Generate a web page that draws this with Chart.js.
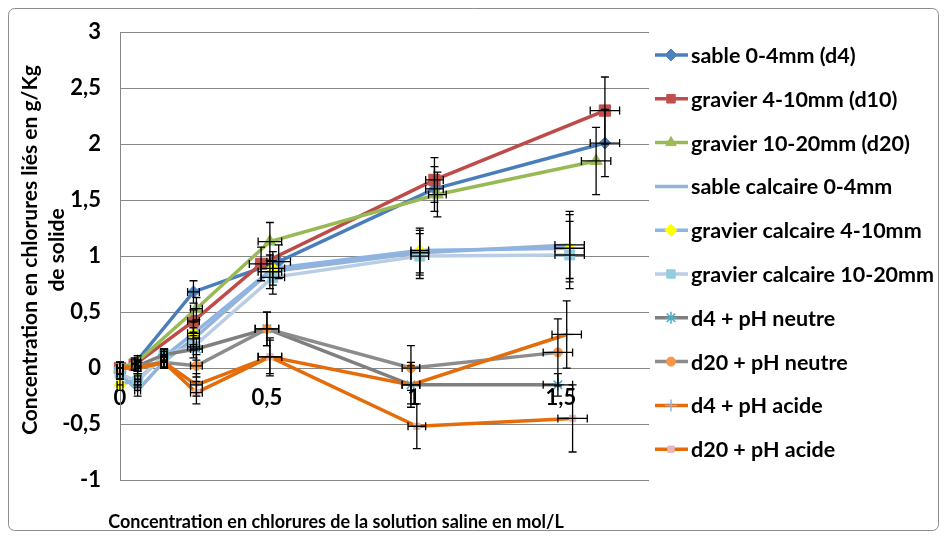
<!DOCTYPE html>
<html>
<head>
<meta charset="utf-8">
<script src="https://cdn.jsdelivr.net/npm/chart.js@4/dist/chart.umd.min.js"></script>
<style>
  body { margin: 0; background: #fff; }
</style>
</head>
<body>
<canvas id="myChart" width="946" height="538"></canvas>
<script>
// series names (legend)
const seriesNames = [
    'sable 0-4mm (d4)',
    'gravier 4-10mm (d10)',
    'gravier 10-20mm (d20)',
    'sable calcaire 0-4mm',
    'gravier calcaire 4-10mm',
    'gravier calcaire 10-20mm',
    'd4 + pH neutre',
    'd20 + pH neutre',
    'd4 + pH acide',
    'd20 + pH acide'
];

// concentration of the saline solution (mol/L), one list per series
const xValues = [
    [0, 0.05, 0.25, 0.54, 1.07, 1.65],
    [0, 0.05, 0.25, 0.48, 1.07, 1.65],
    [0, 0.06, 0.26, 0.51, 1.08, 1.62],
    [0, 0.06, 0.15, 0.25, 0.51, 1.02, 1.53],
    [0, 0.06, 0.15, 0.25, 0.52, 1.02, 1.53],
    [0, 0.06, 0.15, 0.25, 0.52, 1.02, 1.53],
    [0, 0.06, 0.15, 0.26, 0.5, 0.99, 1.49],
    [0, 0.06, 0.15, 0.26, 0.5, 0.99, 1.49],
    [0, 0.06, 0.15, 0.26, 0.51, 0.99, 1.52],
    [0, 0.06, 0.15, 0.26, 0.51, 1.01, 1.54]
];

// bound chlorides (g/Kg of solid)
const yValues = [
    [0, 0.04, 0.68, 0.95, 1.6, 2.01],
    [0, 0.03, 0.42, 0.93, 1.68, 2.3],
    [0, 0.06, 0.53, 1.13, 1.55, 1.85],
    [-0.05, -0.2, 0.06, 0.26, 0.86, 1.03, 1.1],
    [-0.15, -0.1, 0.1, 0.31, 0.89, 1.05, 1.07],
    [-0.05, -0.12, 0.12, 0.19, 0.81, 1.0, 1.01],
    [0, 0.02, 0.12, 0.17, 0.35, -0.15, -0.15],
    [0, 0.02, 0.05, 0.02, 0.35, 0.0, 0.14],
    [0, 0.0, 0.05, -0.15, 0.1, -0.15, 0.3],
    [0, 0.0, 0.05, -0.22, 0.1, -0.52, -0.45]
];

// error bars (+/-)
const yErrors = [
    [0.05, 0.05, 0.1, 0.15, 0.2, 0.3],
    [0.05, 0.05, 0.1, 0.15, 0.2, 0.3],
    [0.05, 0.05, 0.1, 0.17, 0.2, 0.3],
    [0.05, 0.05, 0.05, 0.1, 0.15, 0.2, 0.3],
    [0.05, 0.05, 0.05, 0.1, 0.15, 0.2, 0.3],
    [0.05, 0.05, 0.05, 0.1, 0.15, 0.2, 0.3],
    [0.05, 0.05, 0.05, 0.1, 0.15, 0.17, 0.1],
    [0.05, 0.05, 0.05, 0.1, 0.15, 0.2, 0.3],
    [0.05, 0.05, 0.05, 0.1, 0.15, 0.2, 0.3],
    [0.05, 0.05, 0.05, 0.1, 0.17, 0.2, 0.3]
];
const xErrors = [
    [0.01, 0.01, 0.02, 0.04, 0.03, 0.05],
    [0.01, 0.01, 0.02, 0.04, 0.03, 0.05],
    [0.01, 0.01, 0.02, 0.04, 0.03, 0.05],
    [0.01, 0.01, 0.01, 0.02, 0.04, 0.03, 0.05],
    [0.01, 0.01, 0.01, 0.02, 0.04, 0.03, 0.05],
    [0.01, 0.01, 0.01, 0.02, 0.04, 0.03, 0.05],
    [0.01, 0.01, 0.01, 0.02, 0.04, 0.03, 0.05],
    [0.01, 0.01, 0.01, 0.02, 0.04, 0.03, 0.05],
    [0.01, 0.01, 0.01, 0.02, 0.04, 0.03, 0.05],
    [0.01, 0.01, 0.01, 0.02, 0.04, 0.03, 0.05]
];

const yTicks = [-1, -0.5, 0, 0.5, 1, 1.5, 2, 2.5, 3];
const xTicks = [0, 0.5, 1, 1.5];

// styles
const lineColors = ['#4A7EBB', '#BE4B48', '#98B954', '#95B3D7', '#8EB4E3', '#B9CDE5', '#7F7F7F', '#8C8C8C', '#E46C0A', '#E46C0A'];
const markerColors = ['#4F81BD', '#C0504D', '#9BBB59', '#95B3D7', '#FFFF00', '#93CDDD', '#4BACC6', '#F79646', '#8EB4E3', '#E6B9B8'];
const markerStyles = ['rectRot', 'rect', 'triangle', 'line', 'rectRot', 'rect', 'star', 'circle', 'cross', 'rect'];
const markerSizes = [6, 8, 7, 4, 6, 7, 6, 4.5, 6, 4.5];

const FONT = 'Lato, "DejaVu Sans", sans-serif';

const datasets = seriesNames.map((name, i) => ({
    label: name,
    data: xValues[i].map((x, j) => ({ x: x, y: yValues[i][j] })),
    borderColor: lineColors[i],
    backgroundColor: markerColors[i],
    borderWidth: 3.5,
    pointStyle: markerStyles[i],
    pointRadius: markerSizes[i],
    pointBackgroundColor: markerColors[i],
    pointBorderColor: markerColors[i],
    pointBorderWidth: (markerStyles[i] == 'star' || markerStyles[i] == 'cross') ? 1.5 : 1,
    tension: 0,
    clip: false,
    order: 10 - i
}));

//error bars
const errorBars = {
    id: 'errorBars',
    afterDatasetsDraw(chart) {
        const ctx = chart.ctx;
        const xs = chart.scales.x, ys = chart.scales.y;
        ctx.save();
        ctx.strokeStyle = '#000';
        ctx.lineWidth = 1.3;
        const cap = 4;
        xValues.forEach((xv, i) => {
            xv.forEach((x, j) => {
                const px = xs.getPixelForValue(x);
                const py = ys.getPixelForValue(yValues[i][j]);
                const top = ys.getPixelForValue(yValues[i][j] + yErrors[i][j]);
                const bot = ys.getPixelForValue(yValues[i][j] - yErrors[i][j]);
                const left = xs.getPixelForValue(x - xErrors[i][j]);
                const right = xs.getPixelForValue(x + xErrors[i][j]);
                ctx.beginPath();
                ctx.moveTo(px, top); ctx.lineTo(px, bot);
                ctx.moveTo(px - cap, top); ctx.lineTo(px + cap, top);
                ctx.moveTo(px - cap, bot); ctx.lineTo(px + cap, bot);
                ctx.moveTo(left, py); ctx.lineTo(right, py);
                ctx.moveTo(left, py - cap); ctx.lineTo(left, py + cap);
                ctx.moveTo(right, py - cap); ctx.lineTo(right, py + cap);
                ctx.stroke();
            });
        });
        ctx.restore();
    }
};

//legend + axis titles + frame
const decorations = {
    id: 'decorations',
    beforeDraw(chart) {
        const ctx = chart.ctx;
        ctx.save();
        ctx.fillStyle = '#fff';
        ctx.fillRect(0, 0, chart.width, chart.height);
        ctx.strokeStyle = '#8c8c8c';
        ctx.lineWidth = 1;
        ctx.beginPath();
        ctx.roundRect(8.5, 8.5, 930, 522, 6);
        ctx.stroke();
        ctx.restore();
    },
    afterDraw(chart) {
        const ctx = chart.ctx;
        ctx.save();
        ctx.font = 'bold 21.5px ' + FONT;
        ctx.textBaseline = 'middle';
        chart.data.datasets.forEach((ds, i) => {
            const y = 55 + i * 43.8;
            ctx.strokeStyle = ds.borderColor;
            ctx.lineWidth = ds.borderWidth;
            ctx.beginPath();
            ctx.moveTo(655, y);
            ctx.lineTo(688, y);
            ctx.stroke();
            ctx.fillStyle = ds.pointBackgroundColor;
            ctx.strokeStyle = ds.pointBorderColor;
            ctx.lineWidth = ds.pointBorderWidth;
            Chart.helpers.drawPoint(ctx, {
                pointStyle: ds.pointStyle,
                rotation: 0,
                radius: Math.min(ds.pointRadius, 6),
                borderWidth: ds.pointBorderWidth
            }, 671, y);
            ctx.fillStyle = '#000';
            ctx.textAlign = 'left';
            ctx.fillText(ds.label, 691, y + 1);
        });

        // axis titles
        ctx.fillStyle = '#000';
        ctx.textAlign = 'center';
        ctx.font = 'bold 18px ' + FONT;
        ctx.fillText('Concentration en chlorures de la solution saline en mol/L', 336, 522);
        ctx.font = 'bold 21px ' + FONT;
        ctx.translate(30, 250);
        ctx.rotate(-Math.PI / 2);
        ctx.fillText('Concentration en chlorures liés en g/Kg', 0, 0);
        ctx.fillText('de solide', 0, 27);
        ctx.restore();
    }
};

const ctx = document.getElementById('myChart');
new Chart(ctx, {
    type: 'line',
    data: { datasets: datasets },
    options: {
        responsive: false,
        animation: false,
        layout: { padding: { left: 0, top: 23, right: 297, bottom: 58 } },
        plugins: {
            legend: { display: false },
            tooltip: { enabled: false }
        },
        scales: {
            x: {
                type: 'linear',
                min: 0,
                max: 1.8,
                position: { y: 0 },
                afterBuildTicks: (scale) => { scale.ticks = xTicks.map(v => ({ value: v })); },
                grid: { display: false, drawTicks: false },
                border: { display: true, color: '#868686', width: 1 },
                ticks: {
                    padding: 17,
                    color: '#000',
                    font: { size: 22, weight: 'bold', family: FONT },
                    callback: (v) => String(v).replace('.', ',')
                }
            },
            y: {
                type: 'linear',
                min: -1,
                max: 3,
                afterBuildTicks: (scale) => { scale.ticks = yTicks.map(v => ({ value: v })); },
                afterFit: (scale) => { scale.width = 120; },
                grid: { color: '#868686', drawTicks: false },
                border: { display: true, color: '#868686', width: 1 },
                ticks: {
                    padding: 19,
                    color: '#000',
                    font: { size: 22, weight: 'bold', family: FONT },
                    callback: (v) => String(v).replace('.', ',')
                }
            }
        }
    },
    plugins: [errorBars, decorations]
});
</script>
</body>
</html>
